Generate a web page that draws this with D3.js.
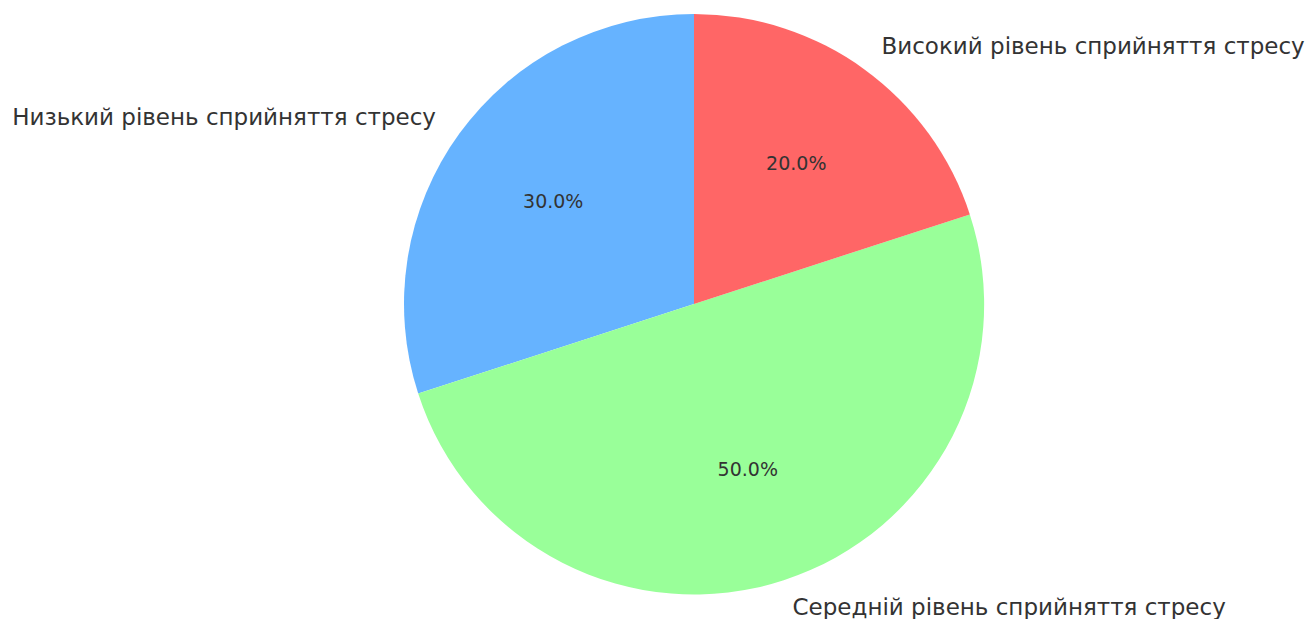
<!DOCTYPE html>
<html>
<head>
<meta charset="utf-8">
<script src="https://cdn.jsdelivr.net/npm/d3@7"></script>
<style>
  body { margin: 0; background: #fff; }
  text { font-family: "DejaVu Sans", sans-serif; fill: #333; }
</style>
</head>
<body>
<div id="chart"></div>
<script>
// data
var labels = ["Низький рівень сприйняття стресу", "Середній рівень сприйняття стресу", "Високий рівень сприйняття стресу"];
var values = [30, 50, 20];
var colors = ["#66b3ff", "#99ff99", "#ff6666"];

var svgWidth = 1308;
var svgHeight = 619;
var cx = 694, cy = 304, radius = 290;

var svg = d3.select("#chart")
  .append("svg")
  .attr("width", svgWidth)
  .attr("height", svgHeight);

var g = svg.append("g")
  .attr("transform", `translate(${cx}, ${cy})`);

var data = values.map(function(v, i) {
  return { label: labels[i], value: v, color: colors[i] };
});

// counterclockwise starting at the top, like matplotlib startangle=90
var pie = d3.pie()
  .sort(null)
  .value(d => d.value)
  .startAngle(0)
  .endAngle(-2 * Math.PI);

var arcs = pie(data);
var total = d3.sum(values);

var arc = d3.arc().innerRadius(0).outerRadius(radius);

g.selectAll("path")
  .data(arcs)
  .enter()
  .append("path")
  .attr("d", arc)
  .attr("fill", d => d.data.color);

function midPoint(d, dist) {
  var a = (d.startAngle + d.endAngle) / 2;
  return [Math.sin(a) * dist, -Math.cos(a) * dist];
}

// percentages
g.selectAll(".pct")
  .data(arcs)
  .enter()
  .append("text")
  .attr("class", "pct")
  .attr("x", d => midPoint(d, radius * 0.6)[0])
  .attr("y", d => midPoint(d, radius * 0.6)[1])
  .attr("dy", "0.35em")
  .attr("text-anchor", "middle")
  .attr("font-size", "19px")
  .text(d => (d.data.value / total * 100).toFixed(1) + "%");

// labels
g.selectAll(".lbl")
  .data(arcs)
  .enter()
  .append("text")
  .attr("class", "lbl")
  .attr("x", d => midPoint(d, radius * 1.1)[0])
  .attr("y", d => midPoint(d, radius * 1.1)[1])
  .attr("dy", "0.35em")
  .attr("text-anchor", d => midPoint(d, 1)[0] < 0 ? "end" : "start")
  .attr("font-size", "23px")
  .text(d => d.data.label);
</script>
</body>
</html>
